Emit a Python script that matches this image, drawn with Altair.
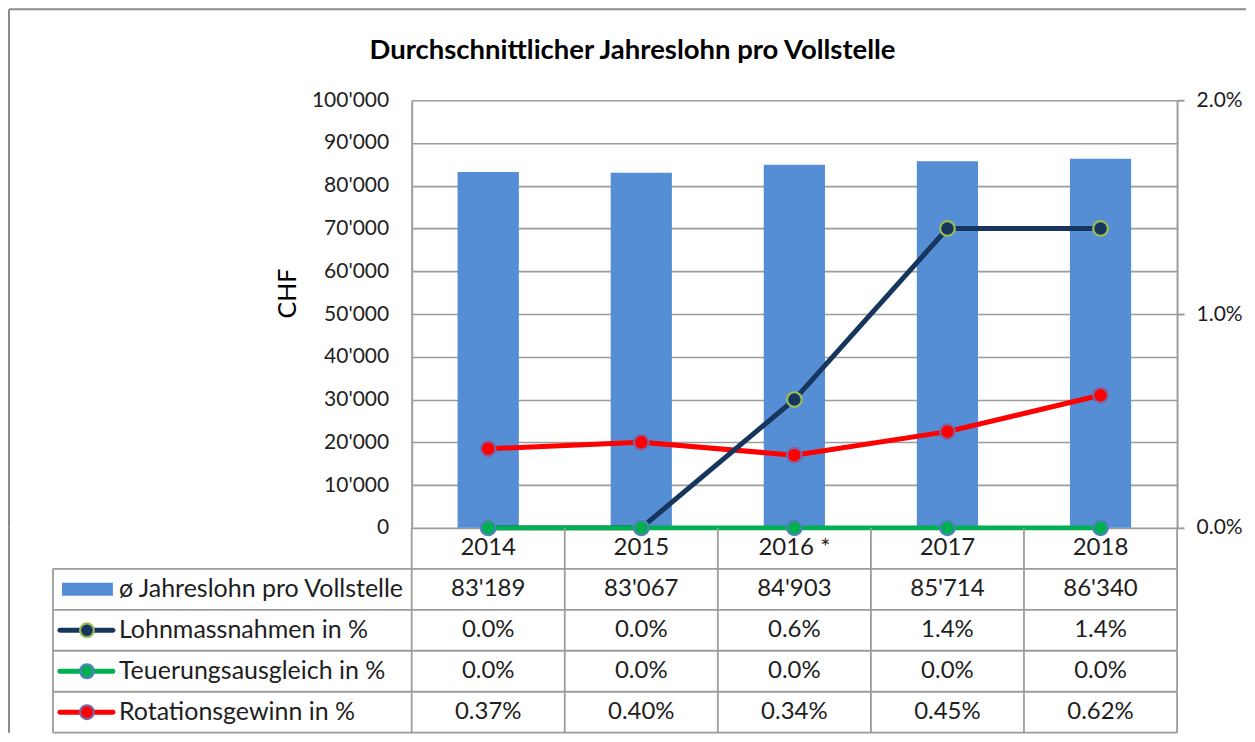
import altair as alt
import pandas as pd

# ---------------- data ----------------
years = ["2014", "2015", "2016", "2017", "2018"]
year_labels = ["2014", "2015", "2016 *", "2017", "2018"]
jahreslohn = [83189, 83067, 84903, 85714, 86340]          # CHF
lohnmassnahmen = [0.0, 0.0, 0.6, 1.4, 1.4]                # %
teuerung = [0.0, 0.0, 0.0, 0.0, 0.0]                      # %
rotation = [0.37, 0.40, 0.34, 0.45, 0.62]                 # %
series_names = ["ø Jahreslohn pro Vollstelle", "Lohnmassnahmen in %",
                "Teuerungsausgleich in %", "Rotationsgewinn in %"]
left_ticks = [0, 10000, 20000, 30000, 40000, 50000, 60000, 70000, 80000, 90000, 100000]
right_ticks = [0.0, 1.0, 2.0]
title_text = "Durchschnittlicher Jahreslohn pro Vollstelle"

# ---------------- styles ----------------
W, H, ROW = 766, 428, 41
FONT = "Lato"
GRID = "#9c9c9c"
BORDER = "#8a8a8a"
BAR = "#558ED5"
C_LOHN, C_LOHN_EDGE = "#17365D", "#9BBB59"
C_TEU, C_TEU_EDGE = "#00B050", "#4F81BD"
C_ROT, C_ROT_EDGE = "#FF0000", "#8064A2"
TXT = "#1e1e1e"

one = pd.DataFrame({"k": [0]})

xscale = alt.Scale(domain=years, paddingInner=0, paddingOuter=0)
x_enc = alt.X("year:N", sort=years, scale=xscale, axis=None)

# ---------------- top chart ----------------
bars_df = pd.DataFrame({"year": years, "value": jahreslohn})
bars = alt.Chart(bars_df).mark_bar(color=BAR, width=alt.RelativeBandSize(0.4)).encode(
    x=x_enc,
    y=alt.Y("value:Q", scale=alt.Scale(domain=[0, 100000], nice=False),
            axis=alt.Axis(values=left_ticks,
                          labelExpr="replace(format(datum.value, ',d'), ',', \"'\")",
                          grid=True, gridColor=GRID, gridWidth=1.6,
                          tickSize=0, domainColor=GRID, domainWidth=2,
                          labelPadding=23, labelFontSize=21, labelColor=TXT, labelFont=FONT,
                          title="CHF", titleFontSize=25, titleFontWeight="normal",
                          titleFont=FONT, titleColor="#000", titleX=-124, titleY=193,
                          titleAngle=270, titleBaseline="middle", titleAlign="center")),
)

y_pct = alt.Y("pct:Q", scale=alt.Scale(domain=[0, 2], nice=False),
              axis=alt.Axis(orient="right", values=right_ticks,
                            labelExpr="format(datum.value, '.1f') + '%'",
                            grid=False, tickSize=7, tickColor=GRID, tickWidth=2,
                            domainColor=GRID, domainWidth=2, labelPadding=12,
                            labelFontSize=21, labelColor=TXT, labelFont=FONT, title=None))


def series_layer(values, line_color, edge_color):
    df = pd.DataFrame({"year": years, "pct": values})
    base = alt.Chart(df).encode(x=x_enc, y=y_pct)
    line = base.mark_line(color=line_color, strokeWidth=5, strokeJoin="round")
    pts = base.mark_circle(color=line_color, stroke=edge_color, strokeWidth=2.2,
                           size=215, opacity=1)
    return [line, pts]


lines = alt.layer(*(series_layer(rotation, C_ROT, C_ROT_EDGE)
                    + series_layer(lohnmassnahmen, C_LOHN, C_LOHN_EDGE)
                    + series_layer(teuerung, C_TEU, C_TEU_EDGE)))

title = alt.Chart(one).mark_text(text=title_text, font=FONT, fontSize=27.5, fontWeight="bold",
                                 align="center", baseline="alphabetic", color="#000").encode(
    x=alt.value(221), y=alt.value(-41))
border_top = alt.Chart(one).mark_rule(color=BORDER, strokeWidth=2).encode(
    x=alt.value(-403), x2=alt.value(835), y=alt.value(-91))
border_left_top = alt.Chart(one).mark_rule(color=BORDER, strokeWidth=2).encode(
    x=alt.value(-403), y=alt.value(-91), y2=alt.value(H))

top = alt.layer(bars, lines, title, border_top, border_left_top).resolve_scale(
    y="independent").properties(width=W, height=H)

# ---------------- data table ----------------
def chf(v):
    return f"{v:,}".replace(",", "'")


rows_domain = ["Jahr"] + series_names
table_values = [
    year_labels,
    [chf(v) for v in jahreslohn],
    [f"{v:.1f}%" for v in lohnmassnahmen],
    [f"{v:.1f}%" for v in teuerung],
    [f"{v:.2f}%" for v in rotation],
]
cell_records = []
for r, vals in zip(rows_domain, table_values):
    for y, t in zip(years, vals):
        cell_records.append({"row": r, "year": y, "text": t})
cell_df = pd.DataFrame(cell_records)

yscale = alt.Scale(domain=rows_domain, paddingInner=0, paddingOuter=0)
y_row = alt.Y("row:N", sort=rows_domain, scale=yscale, axis=None)

cells = alt.Chart(cell_df).mark_text(font=FONT, fontSize=24, color=TXT, align="center",
                                     baseline="middle").encode(x=x_enc, y=y_row, text="text:N")

years_df = pd.DataFrame({"year": years})
vlines = alt.Chart(years_df).mark_rule(color=GRID, strokeWidth=1.8).encode(
    x=alt.X("year:N", sort=years, scale=xscale, axis=None, bandPosition=0),
    y=alt.value(0), y2=alt.value(5 * ROW))
vline_end = alt.Chart(pd.DataFrame({"year": years[-1:]})).mark_rule(color=GRID, strokeWidth=1.8).encode(
    x=alt.X("year:N", sort=years, scale=xscale, axis=None, bandPosition=1),
    y=alt.value(0), y2=alt.value(5 * ROW))

body_df = pd.DataFrame({"row": series_names})
hlines = alt.Chart(body_df).mark_rule(color=GRID, strokeWidth=1.8).encode(
    y=alt.Y("row:N", sort=rows_domain, scale=yscale, axis=None, bandPosition=0),
    x=alt.value(-359), x2=alt.value(W))
hline_end = alt.Chart(pd.DataFrame({"row": series_names[-1:]})).mark_rule(color=GRID, strokeWidth=1.8).encode(
    y=alt.Y("row:N", sort=rows_domain, scale=yscale, axis=None, bandPosition=1),
    x=alt.value(-359), x2=alt.value(W))
left_col_line = alt.Chart(one).mark_rule(color=GRID, strokeWidth=1.8).encode(
    x=alt.value(-359), y=alt.value(ROW), y2=alt.value(5 * ROW))
border_left_bottom = alt.Chart(one).mark_rule(color=BORDER, strokeWidth=2).encode(
    x=alt.value(-403), y=alt.value(0), y2=alt.value(5 * ROW))

legend_labels = alt.Chart(body_df).mark_text(font=FONT, fontSize=25, color=TXT, align="left",
                                             baseline="middle").encode(
    x=alt.value(-293), y=y_row, text="row:N")

bar_swatch = alt.Chart(pd.DataFrame({"row": series_names[:1]})).mark_rule(
    color=BAR, strokeWidth=13, strokeCap="butt").encode(
    x=alt.value(-350), x2=alt.value(-299), y=y_row)

swatches = [bar_swatch]
for name, lc, ec in [(series_names[1], C_LOHN, C_LOHN_EDGE),
                     (series_names[2], C_TEU, C_TEU_EDGE),
                     (series_names[3], C_ROT, C_ROT_EDGE)]:
    sdf = pd.DataFrame({"row": [name]})
    swatches.append(alt.Chart(sdf).mark_rule(color=lc, strokeWidth=5, strokeCap="round").encode(
        x=alt.value(-352), x2=alt.value(-299), y=y_row))
    swatches.append(alt.Chart(sdf).mark_circle(color=lc, stroke=ec, strokeWidth=2.2, size=190,
                                               opacity=1).encode(
        x=alt.value(-325), y=y_row))

table = alt.layer(vlines, vline_end, hlines, hline_end, left_col_line, border_left_bottom,
                  cells, legend_labels, *swatches).properties(width=W, height=5 * ROW)

chart = alt.vconcat(top, table, spacing=0, bounds="flush").configure_view(
    strokeWidth=0).properties(padding={"left": 0, "top": 0, "right": 0, "bottom": 0})

chart.save("out.html", embed_options={"renderer": "svg", "actions": False})
